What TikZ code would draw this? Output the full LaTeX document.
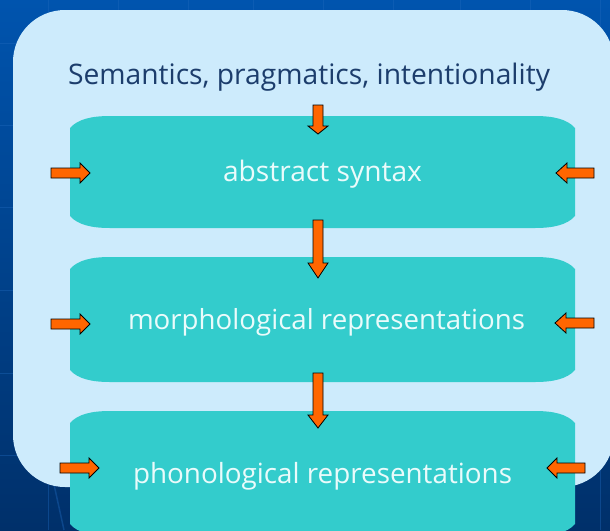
\documentclass[tikz,border=0pt]{standalone}
\usepackage{fontspec}
\setmainfont{Open Sans}
\definecolor{panelblue}{HTML}{CDEBFC}
\definecolor{tealbox}{HTML}{33CCCC}
\definecolor{arrorange}{HTML}{FF6600}
\definecolor{titlecol}{HTML}{1C3D6C}
\definecolor{boxtxt}{HTML}{EAFBFB}
\definecolor{bgtop}{HTML}{0054AE}
\definecolor{bgbot}{HTML}{00306A}
\definecolor{gridcol}{HTML}{1E68BC}
% text scaled to a given width (in pt)
\newcommand\fitw[2]{\setbox0=\hbox{\fontsize{10pt}{12pt}\selectfont #2}%
  \pgfmathsetmacro\fsz{10*#1/\the\wd0}\fontsize{\fsz pt}{\fsz pt}\selectfont #2}
% horizontal block arrow: tail x, tip x, centre y, head length
\newcommand\harr[4]{%
  \pgfmathsetmacro\hb{#2>#1 ? #2-#4 : #2+#4}%
  \draw[arr] (#1,#3-5) -- (\hb,#3-5) -- (\hb,#3-10) -- (#2,#3) -- (\hb,#3+10)
    -- (\hb,#3+5) -- (#1,#3+5) -- cycle;}
% downward block arrow: x, tail y, tip y, head length
\newcommand\varr[4]{%
  \pgfmathsetmacro\hb{#3-#4}%
  \draw[arr] (#1-5,#2) -- (#1+5,#2) -- (#1+5,\hb) -- (#1+10,\hb) -- (#1,#3)
    -- (#1-10,\hb) -- (#1-5,\hb) -- cycle;}
% teal box with flared corners: x0, y0, x1, y1
\newcommand\tealshape[4]{%
  \fill[boxst] (#1,#2+12) .. controls (#1+8,#2+3) and (#1+22,#2) .. (#1+40,#2)
    -- (#3-40,#2) .. controls (#3-22,#2) and (#3-8,#2+3) .. (#3,#2+12)
    -- (#3,#4-12) .. controls (#3-8,#4-3) and (#3-22,#4) .. (#3-40,#4)
    -- (#1+40,#4) .. controls (#1+22,#4) and (#1+8,#4-3) .. (#1,#4-12) -- cycle;}
\begin{document}
\begin{tikzpicture}[x=1pt,y=-1pt,
  panel/.style={fill=panelblue},
  boxst/.style={fill=tealbox},
  arr/.style={fill=arrorange, draw=black, line width=0.8pt, line join=miter},
  gridl/.style={draw=gridcol, line width=1pt, opacity=0.4},
  titletext/.style={text=titlecol, anchor=base, inner sep=0pt},
  boxtext/.style={text=boxtxt, anchor=base, inner sep=0pt}]
\useasboundingbox (0,0) rectangle (610,530);
\clip (0,0) rectangle (610,530);
% slide background
\shade[top color=bgtop, bottom color=bgbot] (0,0) rectangle (610,530);
\foreach \yy in {43,125,207,290,373,455} \draw[gridl] (0,\yy) -- (610,\yy);
\foreach \xx in {48,118,188,253,323,393,460,530,600} \draw[gridl] (\xx,0) -- (\xx,530);
\draw[gridl, line width=1.5pt] (53,480) -- (64,530);
% light panel
\fill[panel, rounded corners=52pt] (13,10) rectangle (614,487);
% boxes
\tealshape{70}{116}{575}{228}
\tealshape{70}{257}{575}{382}
\tealshape{70}{411}{575}{536}
% texts
\node[titletext] (sem) at (309,84) {\fitw{482}{Semantics, pragmatics, intentionality}};
\node[boxtext] (syn) at (322.5,181) {\fitw{199}{abstract syntax}};
\node[boxtext] (mor) at (326.5,329) {\fitw{397}{morphological representations}};
\node[boxtext] (pho) at (322.5,483) {\fitw{379}{phonological representations}};
% down arrows
\varr{318}{105}{134}{8}
\varr{318}{220}{278}{15}
\varr{318}{373}{428}{13}
% side arrows
\harr{51}{90}{173}{10}
\harr{51}{90}{324}{10}
\harr{60}{99}{468}{10}
\harr{594}{556}{173}{11}
\harr{594}{555}{323}{11}
\harr{585}{547}{468}{10}
\end{tikzpicture}
\end{document}
